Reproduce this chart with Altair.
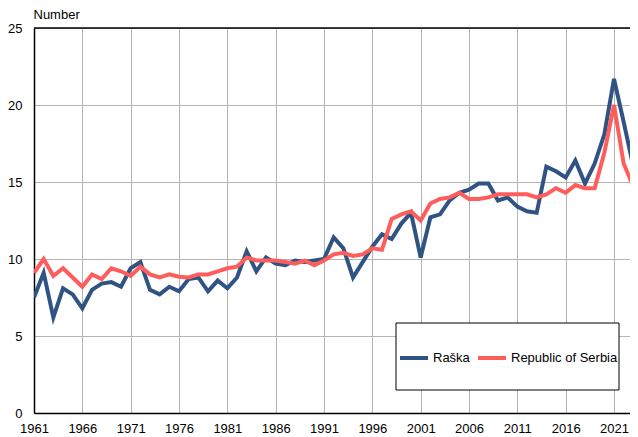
import altair as alt
import pandas as pd

years = list(range(1961, 2025))
raska = [7.5, 9.1, 6.2, 8.1, 7.7, 6.8, 8.0, 8.4, 8.5, 8.2,
         9.4, 9.8, 8.0, 7.7, 8.2, 7.9, 8.7, 8.8, 7.9, 8.6,
         8.1, 8.8, 10.5, 9.2, 10.1, 9.7, 9.6, 9.9, 9.8, 9.9,
         10.0, 11.4, 10.7, 8.8, 9.8, 10.8, 11.6, 11.3, 12.3, 13.0,
         10.1, 12.7, 12.9, 13.8, 14.3, 14.5, 14.9, 14.9, 13.8, 14.0,
         13.4, 13.1, 13.0, 16.0, 15.7, 15.3, 16.4, 14.9, 16.2, 18.1,
         21.7, 18.9, 16.0, 14.0]
serbia = [9.1, 10.0, 8.9, 9.4, 8.8, 8.2, 9.0, 8.7, 9.4, 9.2,
          8.9, 9.5, 9.0, 8.8, 9.0, 8.85, 8.8, 9.0, 9.0, 9.2,
          9.4, 9.5, 10.1, 9.9, 9.9, 9.9, 9.8, 9.7, 9.9, 9.6,
          9.9, 10.3, 10.4, 10.2, 10.3, 10.7, 10.6, 12.6, 12.9, 13.1,
          12.5, 13.6, 13.9, 14.0, 14.3, 13.9, 13.9, 14.0, 14.2, 14.2,
          14.2, 14.2, 14.0, 14.2, 14.6, 14.3, 14.8, 14.6, 14.6, 16.9,
          20.0, 16.2, 14.7, 14.8]
series_names = ["Raška", "Republic of Serbia"]
series_colors = ["#2f5382", "#ff5c5c"]
tick_years = list(range(1961, 2022, 5))

df = pd.DataFrame({
    "year": years * 2,
    "value": raska + serbia,
    "series": [series_names[0]] * len(years) + [series_names[1]] * len(years),
})

W, H = 596, 385
X_END = 1961 + W * 60 / 580.0
FONT = "Liberation Sans"

lines = alt.Chart(df).mark_line(strokeWidth=4, clip=True).encode(
    x=alt.X("year:Q",
            scale=alt.Scale(domain=[1961, X_END], nice=False, zero=False),
            axis=alt.Axis(values=tick_years, format="d", title=None,
                          grid=True, gridColor="#b4b4b4", gridWidth=1,
                          ticks=False, domainColor="black", domainWidth=1.5,
                          labelFont=FONT, labelFontSize=13, labelColor="black",
                          labelPadding=9, labelFlush=False)),
    y=alt.Y("value:Q",
            scale=alt.Scale(domain=[0, 25], nice=False),
            axis=alt.Axis(values=[0, 5, 10, 15, 20, 25], title="Number",
                          titleAngle=0, titleX=-1, titleY=-10,
                          titleAlign="left", titleBaseline="alphabetic",
                          titleFont=FONT, titleFontSize=13, titleFontWeight="normal",
                          titleColor="black",
                          grid=True, gridColor="#b4b4b4", gridWidth=1,
                          ticks=False, domainColor="black", domainWidth=1.5,
                          labelFont=FONT, labelFontSize=13, labelColor="black",
                          labelPadding=12)),
    color=alt.Color("series:N",
                    scale=alt.Scale(domain=series_names, range=series_colors),
                    legend=alt.Legend(title=None, orient="none", direction="horizontal",
                                      legendX=364, legendY=314, padding=0,
                                      symbolType="stroke", symbolSize=784,
                                      symbolStrokeWidth=4, labelFont=FONT,
                                      labelFontSize=13, labelColor="black",
                                      labelOffset=3, columnPadding=0)),
)

top_line = alt.Chart(pd.DataFrame({"a": [0]})).mark_rule(color="black", strokeWidth=1.5).encode(
    x=alt.value(0), x2=alt.value(W), y=alt.value(0)
)

legend_box = alt.Chart(pd.DataFrame({"a": [0]})).mark_rect(
    fill="white", stroke="black", strokeWidth=1
).encode(
    x=alt.value(362), x2=alt.value(585), y=alt.value(295), y2=alt.value(362)
)

chart = alt.layer(lines, legend_box, top_line).properties(
    width=W, height=H,
    autosize=alt.AutoSizeParams(type="none"),
    padding={"left": 26, "top": 20, "right": 0, "bottom": 24},
).configure_view(stroke=None).configure(background="white")

chart.save("out.html", embed_options={"renderer": "svg", "actions": False})
